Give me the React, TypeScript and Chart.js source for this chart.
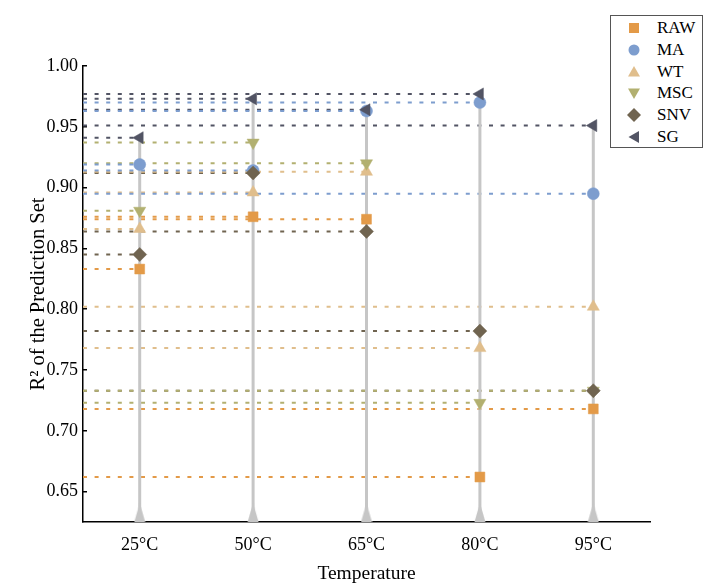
import React, { useEffect, useRef } from 'react';
import { Chart, registerables } from 'chart.js';

Chart.register(...registerables);

const categories = ['25°C', '50°C', '65°C', '80°C', '95°C'];
const seriesNames = ['RAW', 'MA', 'WT', 'MSC', 'SNV', 'SG'];
const rawValues = [0.833, 0.876, 0.874, 0.662, 0.718];
const maValues = [0.919, 0.914, 0.963, 0.970, 0.895];
const wtValues = [0.866, 0.896, 0.913, 0.768, 0.802];
const mscValues = [0.881, 0.937, 0.920, 0.723, 0.733];
const snvValues = [0.845, 0.912, 0.864, 0.782, 0.733];
const sgValues = [0.941, 0.973, 0.964, 0.977, 0.951];
const yTicks = [0.65, 0.70, 0.75, 0.80, 0.85, 0.90, 0.95, 1.00];
const yMin = 0.625;
const yMax = 1.0;

const seriesValues = [rawValues, maValues, wtValues, mscValues, snvValues, sgValues];

const seriesStyles = [
  { color: '#E39A48', pointStyle: 'rect', rotation: 0, radius: 7 },
  { color: '#7D9DCE', pointStyle: 'circle', rotation: 0, radius: 6 },
  { color: '#E0BE8C', pointStyle: 'triangle', rotation: 0, radius: 7 },
  { color: '#B2B070', pointStyle: 'triangle', rotation: 180, radius: 7 },
  { color: '#706450', pointStyle: 'rectRot', rotation: 0, radius: 7 },
  { color: '#525464', pointStyle: 'triangle', rotation: -90, radius: 7 },
];

const FONT_FAMILY = "'Liberation Serif', 'Times New Roman', serif";
const STEM_COLOR = '#c6c6c6';

function makeStemBase(): HTMLCanvasElement {
  const c = document.createElement('canvas');
  c.width = 12;
  c.height = 40;
  const ctx = c.getContext('2d');
  if (ctx) {
    ctx.fillStyle = STEM_COLOR;
    ctx.beginPath();
    ctx.moveTo(6, 1);
    ctx.lineTo(11.5, 20);
    ctx.lineTo(0.5, 20);
    ctx.closePath();
    ctx.fill();
  }
  return c;
}

function LegendMarker({ index }: { index: number }) {
  const s = seriesStyles[index];
  const c = s.color;
  let shape: React.ReactNode = null;
  if (index === 0) shape = <rect x={3} y={3} width={10} height={10} fill={c} />;
  else if (index === 1) shape = <circle cx={8} cy={8} r={5.5} fill={c} />;
  else if (index === 2) shape = <polygon points="8,2 14,12.5 2,12.5" fill={c} />;
  else if (index === 3) shape = <polygon points="8,14 14,3.5 2,3.5" fill={c} />;
  else if (index === 4) shape = <polygon points="8,1 15,8 8,15 1,8" fill={c} />;
  else shape = <polygon points="2.5,8 13,2 13,14" fill={c} />;
  return (
    <svg width={16} height={16} style={{ position: 'absolute', left: 15, top: -8 }}>
      {shape}
    </svg>
  );
}

export default function App() {
  const canvasRef = useRef<HTMLCanvasElement | null>(null);

  useEffect(() => {
    if (!canvasRef.current) return;
    const stemBase = makeStemBase();
    const font = { family: FONT_FAMILY, size: 18 };

    const datasets: any[] = [];

    // dashed reference lines from the y axis to each point
    seriesValues.forEach((vals, si) => {
      const data: any[] = [];
      vals.forEach((v, i) => {
        data.push({ x: -0.5, y: v });
        data.push({ x: i, y: v });
        data.push({ x: i, y: null });
      });
      datasets.push({
        type: 'line',
        label: seriesNames[si] + ' guide',
        data,
        borderColor: seriesStyles[si].color,
        borderWidth: 2,
        borderDash: [4, 7.6],
        pointRadius: 0,
        spanGaps: false,
        fill: false,
        order: 30 + si,
      });
    });

    // vertical stems per category
    categories.forEach((cat, i) => {
      const top = Math.max(...seriesValues.map((vals) => vals[i]));
      datasets.push({
        type: 'line',
        label: cat + ' stem',
        data: [
          { x: i, y: yMin },
          { x: i, y: top },
        ],
        borderColor: STEM_COLOR,
        borderWidth: 3,
        pointRadius: [5, 0],
        pointStyle: stemBase,
        fill: false,
        order: 20,
      });
    });

    // markers
    seriesValues.forEach((vals, si) => {
      const st = seriesStyles[si];
      datasets.push({
        type: 'line',
        label: seriesNames[si],
        data: vals.map((v, i) => ({ x: i, y: v })),
        showLine: false,
        pointStyle: st.pointStyle,
        pointRotation: st.rotation,
        pointRadius: st.radius,
        pointBackgroundColor: st.color,
        pointBorderColor: st.color,
        pointBorderWidth: 0.5,
        order: 10 - si,
      });
    });

    const chart = new Chart(canvasRef.current, {
      type: 'line',
      data: { datasets },
      options: {
        animation: false,
        responsive: true,
        maintainAspectRatio: false,
        layout: { padding: { left: 0, right: 54, top: 66, bottom: 0 } },
        plugins: {
          legend: { display: false },
          tooltip: { enabled: false },
        },
        scales: {
          x: {
            type: 'linear',
            min: -0.5,
            max: categories.length - 0.5,
            afterBuildTicks: (s: any) => {
              s.ticks = categories.map((_, i) => ({ value: i }));
            },
            ticks: {
              callback: (v: any) => categories[Math.round(Number(v))] ?? '',
              font,
              color: '#000',
              padding: 4,
              maxRotation: 0,
              autoSkip: false,
            },
            grid: { display: false },
            border: { display: true, color: '#000', width: 1.5 },
            title: {
              display: true,
              text: 'Temperature',
              font: { family: FONT_FAMILY, size: 19.5 },
              color: '#000',
              padding: { top: 0, bottom: -2 },
            },
            afterFit: (s: any) => {
              s.height = 62;
            },
          },
          y: {
            type: 'linear',
            min: yMin,
            max: yMax,
            afterBuildTicks: (s: any) => {
              s.ticks = yTicks.map((v) => ({ value: v }));
            },
            ticks: {
              callback: (v: any) => Number(v).toFixed(2),
              font,
              color: '#000',
              padding: 9,
            },
            grid: {
              drawOnChartArea: false,
              drawTicks: true,
              tickLength: -4,
              color: '#000',
              lineWidth: 1.5,
            },
            border: { display: true, color: '#000', width: 1.5 },
            title: {
              display: true,
              text: 'R² of the Prediction Set',
              font: { family: FONT_FAMILY, size: 20.5 },
              color: '#000',
              padding: { top: 26, bottom: 0 },
            },
            afterFit: (s: any) => {
              s.width = 83;
            },
          },
        },
      } as any,
    });

    return () => {
      chart.destroy();
    };
  }, []);

  return (
    <div
      style={{
        position: 'fixed',
        left: 0,
        top: 0,
        width: 704,
        height: 584,
        background: '#fff',
      }}
    >
      <canvas ref={canvasRef} />
      <div
        style={{
          position: 'absolute',
          left: 610,
          top: 15,
          width: 93,
          height: 133,
          boxSizing: 'border-box',
          border: '1.5px solid #555',
          background: '#fff',
          fontFamily: FONT_FAMILY,
          fontSize: 17,
          color: '#000',
        }}
      >
        {seriesNames.map((name, i) => (
          <div
            key={name}
            style={{ position: 'absolute', left: 0, top: 12 + i * 21.8, width: '100%', height: 0 }}
          >
            <LegendMarker index={i} />
            <span
              style={{
                position: 'absolute',
                left: 46,
                top: -10,
                lineHeight: '20px',
                whiteSpace: 'nowrap',
              }}
            >
              {name}
            </span>
          </div>
        ))}
      </div>
    </div>
  );
}
